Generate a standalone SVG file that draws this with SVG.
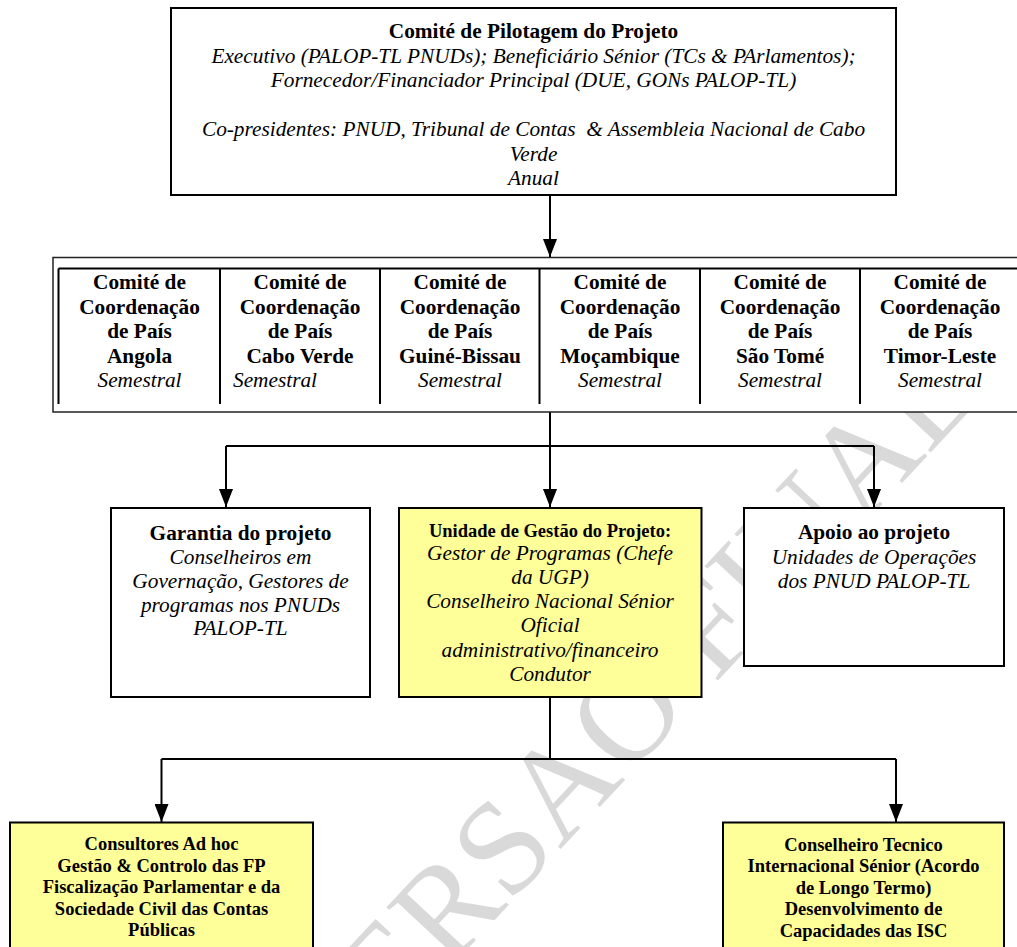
<svg xmlns="http://www.w3.org/2000/svg" width="1017" height="947" viewBox="0 0 1017 947">
<defs>
<style>
text{font-family:"Liberation Serif","Times New Roman",serif;fill:#000;text-anchor:middle}
.b{font-weight:bold;font-size:21.3px}
.i{font-style:italic;font-size:21.3px}
.bs{font-weight:bold;font-size:18.5px}
.box{fill:#fff;stroke:#000;stroke-width:2}
.yel{fill:#ffff99;stroke:#000;stroke-width:2}
.ln{fill:none;stroke:#000;stroke-width:2}
.wm{font-family:"Liberation Serif","Times New Roman",serif;font-size:134px;fill:#d9d9d9}
</style>
<marker id="arr" markerUnits="userSpaceOnUse" markerWidth="18" markerHeight="14" viewBox="0 0 18 14" refX="18" refY="7" orient="auto">
<path d="M0,0 L18,7 L0,14 z" fill="#000"/>
</marker>
</defs>
<rect width="1017" height="947" fill="#fff"/>
<g id="watermark">
<text class="wm" transform="translate(655,748) rotate(-47)" x="0" y="0">VERSAO FINAL</text>
</g>
<g id="connectors">
<path class="ln" d="M550,195 V257" marker-end="url(#arr)"/>
<path class="ln" d="M550,412 V507" marker-end="url(#arr)"/>
<path class="ln" d="M226,446 H874"/>
<path class="ln" d="M226,446 V507" marker-end="url(#arr)"/>
<path class="ln" d="M874,446 V507" marker-end="url(#arr)"/>
<path class="ln" d="M550,697 V759"/>
<path class="ln" d="M161.5,759 H896"/>
<path class="ln" d="M161.5,759 V822" marker-end="url(#arr)"/>
<path class="ln" d="M896,759 V822" marker-end="url(#arr)"/>
</g>
<g id="steering">
<rect class="box" x="171" y="8" width="725" height="187"/>
<text class="b" x="533.5" y="38">Comité de Pilotagem do Projeto</text>
<text class="i" x="533.5" y="62.5">Executivo (PALOP-TL PNUDs); Beneficiário Sénior (TCs &amp; PArlamentos);</text>
<text class="i" x="533.5" y="87">Fornecedor/Financiador Principal (DUE, GONs PALOP-TL)</text>
<text class="i" x="533.5" y="136" style="white-space:pre">Co-presidentes: PNUD, Tribunal de Contas  &amp; Assembleia Nacional de Cabo</text>
<text class="i" x="533.5" y="160.5">Verde</text>
<text class="i" x="533.5" y="185">Anual</text>
</g>
<g id="coordination">
<rect x="53" y="257.5" width="990" height="154.5" fill="#fff" stroke="#222" stroke-width="1.5"/>
<path class="ln" d="M58.5,268.5 H1030 M58.5,268.5 V404 M220,268.5 V404 M380,268.5 V404 M539.5,268.5 V404 M700,268.5 V404 M860,268.5 V404"/>
<g id="cc-angola">
<text class="b" x="139.5" y="289">Comité de</text>
<text class="b" x="139.5" y="313.5">Coordenação</text>
<text class="b" x="139.5" y="338">de País</text>
<text class="b" x="139.5" y="362.5">Angola</text>
<text class="i" x="139.5" y="387">Semestral</text>
</g>
<g id="cc-caboverde">
<text class="b" x="300" y="289">Comité de</text>
<text class="b" x="300" y="313.5">Coordenação</text>
<text class="b" x="300" y="338">de País</text>
<text class="b" x="300" y="362.5">Cabo Verde</text>
<text class="i" x="233" y="387" style="text-anchor:start">Semestral</text>
</g>
<g id="cc-guinebissau">
<text class="b" x="460" y="289">Comité de</text>
<text class="b" x="460" y="313.5">Coordenação</text>
<text class="b" x="460" y="338">de País</text>
<text class="b" x="460" y="362.5">Guiné-Bissau</text>
<text class="i" x="460" y="387">Semestral</text>
</g>
<g id="cc-mocambique">
<text class="b" x="620" y="289">Comité de</text>
<text class="b" x="620" y="313.5">Coordenação</text>
<text class="b" x="620" y="338">de País</text>
<text class="b" x="620" y="362.5">Moçambique</text>
<text class="i" x="620" y="387">Semestral</text>
</g>
<g id="cc-saotome">
<text class="b" x="780" y="289">Comité de</text>
<text class="b" x="780" y="313.5">Coordenação</text>
<text class="b" x="780" y="338">de País</text>
<text class="b" x="780" y="362.5">São Tomé</text>
<text class="i" x="780" y="387">Semestral</text>
</g>
<g id="cc-timorleste">
<text class="b" x="940" y="289">Comité de</text>
<text class="b" x="940" y="313.5">Coordenação</text>
<text class="b" x="940" y="338">de País</text>
<text class="b" x="940" y="362.5">Timor-Leste</text>
<text class="i" x="940" y="387">Semestral</text>
</g>
</g>
<g id="assurance">
<rect class="box" x="111" y="508" width="259" height="189"/>
<text class="b" x="240.5" y="540">Garantia do projeto</text>
<text class="i" x="240.5" y="563.5">Conselheiros em</text>
<text class="i" x="240.5" y="587.5">Governação, Gestores de</text>
<text class="i" x="240.5" y="611.5">programas nos PNUDs</text>
<text class="i" x="240.5" y="635">PALOP-TL</text>
</g>
<g id="ugp">
<rect class="yel" x="399" y="508" width="302.5" height="189"/>
<text class="bs" x="550" y="537">Unidade de Gestão do Projeto:</text>
<text class="i" x="550" y="559.5">Gestor de Programas (Chefe</text>
<text class="i" x="550" y="584">da UGP)</text>
<text class="i" x="550" y="608">Conselheiro Nacional Sénior</text>
<text class="i" x="550" y="632">Oficial</text>
<text class="i" x="550" y="656.5">administrativo/financeiro</text>
<text class="i" x="550" y="681">Condutor</text>
</g>
<g id="support">
<rect class="box" x="744" y="508" width="260" height="158"/>
<text class="b" x="874" y="539">Apoio ao projeto</text>
<text class="i" x="874" y="563.5">Unidades de Operações</text>
<text class="i" x="874" y="587.5">dos PNUD PALOP-TL</text>
</g>
<g id="consultants">
<rect class="yel" x="10" y="822.5" width="303" height="140"/>
<text class="bs" x="161.5" y="850">Consultores Ad hoc</text>
<text class="bs" x="161.5" y="871.5">Gestão &amp; Controlo das FP</text>
<text class="bs" x="161.5" y="893">Fiscalização Parlamentar e da</text>
<text class="bs" x="161.5" y="914.5">Sociedade Civil das Contas</text>
<text class="bs" x="161.5" y="936">Públicas</text>
</g>
<g id="advisor">
<rect class="yel" x="723" y="822.5" width="281" height="140"/>
<text class="bs" x="863.5" y="850.5">Conselheiro Tecnico</text>
<text class="bs" x="863.5" y="872">Internacional Sénior (Acordo</text>
<text class="bs" x="863.5" y="893.5">de Longo Termo)</text>
<text class="bs" x="863.5" y="915">Desenvolvimento de</text>
<text class="bs" x="863.5" y="936.5">Capacidades das ISC</text>
</g>
</svg>
